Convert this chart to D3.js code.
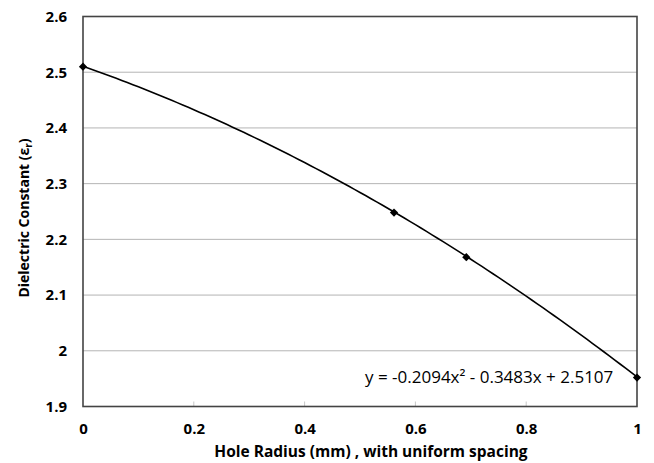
<!DOCTYPE html>
<html>
<head>
<meta charset="utf-8">
<script src="https://cdn.jsdelivr.net/npm/d3@7"></script>
<style>
  html, body { margin: 0; padding: 0; background: #fff; }
  svg { display: block; }
  text { font-family: "Open Sans", "Liberation Sans", sans-serif; fill: #000; }
</style>
</head>
<body>
<svg id="chart" width="654" height="463"></svg>
<script>
// Measured samples: hole radius (mm) and dielectric constant
const radius = [0, 0.5614, 0.6919, 1];
const permittivity = [2.51, 2.248, 2.168, 1.952];

// Quadratic trendline coefficients (y = a x^2 + b x + c)
const trendA = -0.2094, trendB = -0.3483, trendC = 2.5107;
const trendLabel = "y = -0.2094x\u00B2 - 0.3483x + 2.5107";

const xTicks = [0, 0.2, 0.4, 0.6, 0.8, 1];
const yTicks = [1.9, 2, 2.1, 2.2, 2.3, 2.4, 2.5, 2.6];
const xTickLabels = ["0", "0.2", "0.4", "0.6", "0.8", "1"];
const yTickLabels = ["1.9", "2", "2.1", "2.2", "2.3", "2.4", "2.5", "2.6"];

const xTitle = "Hole Radius (mm) , with uniform spacing";

const svg = d3.select("#chart");
const plotL = 83, plotR = 637, plotT = 16.5, plotB = 406.5;

const x = d3.scaleLinear().domain([0, 1]).range([plotL, plotR]);
const y = d3.scaleLinear().domain([1.9, 2.6]).range([plotB, plotT]);

// horizontal gridlines
svg.append("g")
  .selectAll("line")
  .data(yTicks.filter(v => v > 1.9 && v < 2.6))
  .join("line")
  .attr("x1", plotL).attr("x2", plotR)
  .attr("y1", d => y(d)).attr("y2", d => y(d))
  .attr("stroke", "#b4b4b4").attr("stroke-width", 1);

// small inner ticks along the bottom axis
svg.append("g")
  .selectAll("line")
  .data(xTicks.filter(v => v > 0 && v < 1))
  .join("line")
  .attr("x1", d => x(d)).attr("x2", d => x(d))
  .attr("y1", plotB).attr("y2", plotB - 5)
  .attr("stroke", "#c8c8c8").attr("stroke-width", 1);

// plot border
svg.append("rect")
  .attr("x", plotL).attr("y", plotT)
  .attr("width", plotR - plotL).attr("height", plotB - plotT)
  .attr("fill", "none").attr("stroke", "#444").attr("stroke-width", 1.6);

// tick labels via d3 axes (domain and tick lines hidden)
const xAxis = d3.axisBottom(x).tickValues(xTicks)
  .tickFormat((d, i) => xTickLabels[i]).tickSize(0).tickPadding(17);
const gx = svg.append("g").attr("transform", `translate(0,${plotB})`).call(xAxis);
gx.select(".domain").remove();
gx.selectAll("text").attr("font-family", "Open Sans").attr("font-weight", "bold")
  .attr("font-size", 15).attr("fill", "#000");

const yAxis = d3.axisLeft(y).tickValues(yTicks)
  .tickFormat((d, i) => yTickLabels[i]).tickSize(0).tickPadding(16);
const gy = svg.append("g").attr("transform", `translate(${plotL},0)`).call(yAxis);
gy.select(".domain").remove();
gy.selectAll("text").attr("font-family", "Open Sans").attr("font-weight", "bold")
  .attr("font-size", 15).attr("fill", "#000");

// trendline
const trend = d3.range(0, 1.0001, 0.01).map(v => [v, trendA * v * v + trendB * v + trendC]);
svg.append("path")
  .datum(trend)
  .attr("fill", "none").attr("stroke", "#000").attr("stroke-width", 1.6)
  .attr("d", d3.line().x(d => x(d[0])).y(d => y(d[1])));

// data markers (diamonds)
svg.append("g")
  .selectAll("path")
  .data(radius.map((r, i) => [r, permittivity[i]]))
  .join("path")
  .attr("transform", d => `translate(${x(d[0])},${y(d[1])}) rotate(45)`)
  .attr("d", d3.symbol().type(d3.symbolSquare).size(34))
  .attr("fill", "#000");

// trendline equation
svg.append("text")
  .attr("x", 365).attr("y", 383)
  .attr("font-size", 17)
  .text(trendLabel);

// axis titles
svg.append("text")
  .attr("x", 371).attr("y", 457)
  .attr("text-anchor", "middle")
  .attr("font-weight", "bold").attr("font-size", 15.5)
  .text(xTitle);

const yTitle = svg.append("text")
  .attr("transform", `translate(29,218) rotate(-90)`)
  .attr("text-anchor", "middle")
  .attr("font-weight", "bold").attr("font-size", 14);
yTitle.append("tspan").text("Dielectric Constant (\u03B5");
yTitle.append("tspan").attr("font-size", 10).attr("dy", 3).text("r");
yTitle.append("tspan").attr("dy", -3).text(")");
</script>
</body>
</html>
